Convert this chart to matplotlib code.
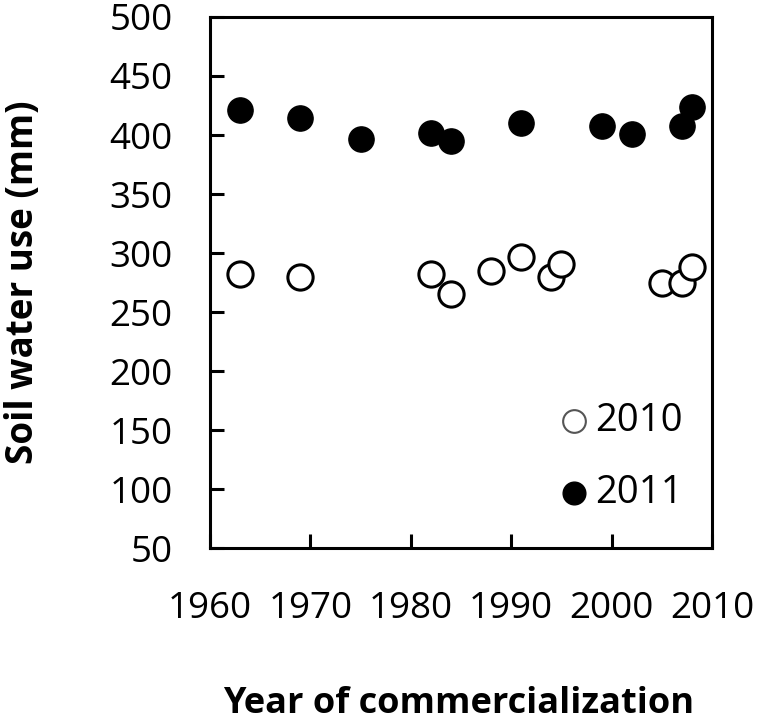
import matplotlib.pyplot as plt

plt.rcParams['font.family'] = ['Open Sans', 'DejaVu Sans']

# 2010 season (open circles)
years_2010 = [1963, 1969, 1982, 1984, 1988, 1991, 1994, 1995, 2005, 2007, 2008]
use_2010 = [282, 280, 282, 265, 285, 297, 280, 291, 275, 275, 288]

# 2011 season (filled circles)
years_2011 = [1963, 1969, 1975, 1982, 1984, 1991, 1999, 2002, 2007, 2008]
use_2011 = [421, 414, 397, 402, 395, 410, 408, 401, 408, 424]

xticks = [1960, 1970, 1980, 1990, 2000, 2010]
yticks = [50, 100, 150, 200, 250, 300, 350, 400, 450, 500]

fig = plt.figure(figsize=(7.6, 7.23), dpi=100)
ax = fig.add_axes([0.2763, 0.2420, 0.6605, 0.7345])

ax.scatter(years_2010, use_2010, s=330, facecolors='white', edgecolors='black',
           linewidths=2.2, label='2010', zorder=3)
ax.scatter(years_2011, use_2011, s=330, facecolors='black', edgecolors='black',
           linewidths=1, label='2011', zorder=3)

ax.set_xlim(1960, 2010)
ax.set_ylim(50, 500)
ax.set_xticks(xticks)
ax.set_yticks(yticks)
ax.tick_params(direction='in', length=10, width=2.2, labelsize=26.5)
ax.tick_params(axis='x', pad=31)
ax.tick_params(axis='y', pad=27)
for sp in ax.spines.values():
    sp.set_linewidth(2.2)

ax.set_ylabel('Soil water use (mm)', fontsize=26.5, fontweight='bold')
ax.yaxis.set_label_coords(-0.335, 0.5)
ax.set_xlabel('Year of commercialization', fontsize=26, fontweight='bold')
ax.xaxis.set_label_coords(0.495, -0.26)

leg = ax.legend(loc='center left', bbox_to_anchor=(0.657, 0.171), frameon=False,
                fontsize=27.5, markerscale=0.9, handlelength=1.0,
                handletextpad=0.05, labelspacing=0.9, borderaxespad=0)
leg.legend_handles[0].set_linewidth(1.5)
leg.legend_handles[0].set_edgecolor('#555555')

fig.savefig('out.png', dpi=100)
